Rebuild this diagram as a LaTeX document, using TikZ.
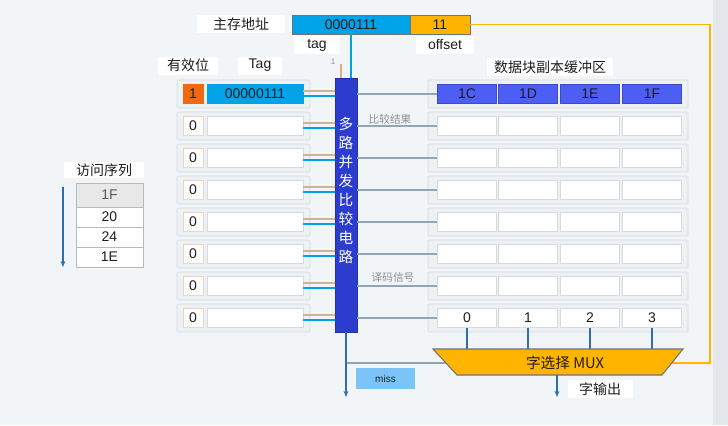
\documentclass[tikz,border=0pt]{standalone}
\usepackage{fontspec}
\setmainfont{Liberation Sans}
\newfontfamily\cjk{Noto Sans CJK SC}
\usetikzlibrary{arrows.meta}

\newcommand{\pxu}{0.75pt}
\definecolor{sfondo}{HTML}{F2F5F8}
\definecolor{banda}{HTML}{E4E8EC}
\definecolor{ciano}{HTML}{00A2E8}
\definecolor{arancio}{HTML}{FFB400}
\definecolor{rosso}{HTML}{F0690F}
\definecolor{blu}{HTML}{2C3CCF}
\definecolor{bluchiaro}{HTML}{4D5EF5}
\definecolor{missblu}{HTML}{7CC3F7}
\definecolor{cornice}{HTML}{D3DBE3}
\definecolor{rigagrigio}{HTML}{EEF1F4}
\definecolor{bordoscuro}{HTML}{6E7378}
\definecolor{bordoarancio}{HTML}{F2D3BC}
\definecolor{filogrigio}{HTML}{8FA6B8}
\definecolor{sabbia}{HTML}{D8B18A}
\definecolor{frecciablu}{HTML}{2F6EA8}
\definecolor{notagrigio}{HTML}{8A8F94}
\definecolor{testo}{HTML}{1E1E1E}

\tikzset{
  etichetta/.style={fill=white,inner sep=0pt,minimum height=18*\pxu,text=testo,font=\fontsize{10.5}{12}\selectfont},
  cinese/.style={etichetta,font=\cjk\fontsize{10.5}{12}\selectfont},
  riga/.style={draw=cornice,fill=rigagrigio,rounded corners=1pt,minimum width=#1*\pxu,minimum height=28*\pxu,inner sep=0pt},
  casella/.style={draw=cornice,fill=white,minimum width=#1*\pxu,minimum height=19*\pxu,inner sep=0pt,text=testo,font=\fontsize{10.5}{12}\selectfont},
  filo/.style={draw=filogrigio,line width=0.8pt},
  freccia/.style={draw=frecciablu,line width=0.9pt,-{Stealth[length=4.5pt,width=3.5pt]}},
  nota/.style={text=notagrigio,inner sep=0pt,font=\cjk\fontsize{8}{9}\selectfont},
}

\begin{document}
\begin{tikzpicture}[x=0.75pt,y=-0.75pt]
    \useasboundingbox (0,0) rectangle (728,425);
    \fill[sfondo] (0,0) rectangle (728,425);
    \fill[banda] (713,0) rectangle (728,425);

    %%%%%%%% Indirizzo %%%%%%%%
    \node[cinese,minimum width=88*\pxu] (lblAddr) at (241,24) {主存地址};
    \node[casella=118,fill=ciano,draw=bordoscuro] (addrTag) at (351,24.5) {0000111};
    \node[casella=60,fill=arancio,draw=bordoscuro] (addrOff) at (440,24.5) {11};
    \node[etichetta,minimum width=46*\pxu] (lblTag) at (317,45) {tag};
    \node[etichetta,minimum width=58*\pxu] (lblOff) at (445,45) {offset};

    %%%%%%%% Intestazioni %%%%%%%%
    \node[cinese,minimum width=60*\pxu] (lblValid) at (188,65.5) {有效位};
    \node[etichetta,minimum width=44*\pxu] (lblTagCol) at (260,65.5) {Tag};
    \node[cinese,minimum width=126*\pxu] (lblBuf) at (550,67) {数据块副本缓冲区};
    \node[inner sep=0pt,text=notagrigio,font=\fontsize{6}{7}\selectfont] (lblOne) at (333,62) {1};
    \coordinate (uno) at (341,64);

    %%%%%%%% Comparatore %%%%%%%%
    \node[fill=blu,draw=blu!80!black,minimum width=22*\pxu,minimum height=254*\pxu,inner sep=0pt] (cmp) at (346,205) {};
    \node[text=white,align=center,inner sep=0pt,font=\cjk\fontsize{11}{14.25}\selectfont] (cmpTxt) at (346,190) {多\\路\\并\\发\\比\\较\\电\\路};
    \node[nota] (lblCmp) at (390,119) {比较结果};
    \node[nota] (lblDec) at (393,277) {译码信号};

    %%%%%%%% Righe cache %%%%%%%%
    \foreach \i in {1,...,8}{
        \pgfmathsetmacro{\yc}{62+32*\i}
        \node[riga=133] (L\i) at (243.5,\yc) {};
        \node[riga=260] (R\i) at (558,\yc) {};
    }
    \node[casella=20,fill=rosso,draw=rosso] (v1) at (193,94) {1};
    \node[casella=96,fill=ciano,draw=ciano] (t1) at (255,94) {00000111};
    \foreach \j/\xc/\d in {1/467/1C,2/528/1D,3/590/1E,4/652/1F}
        \node[casella=59,fill=bluchiaro,draw=bluchiaro!80!black] (c1-\j) at (\xc,94) {\d};
    \foreach \i in {2,...,7}{
        \pgfmathsetmacro{\yc}{62+32*\i}
        \node[casella=20,draw=bordoarancio] (v\i) at (193,\yc) {0};
        \node[casella=96] (t\i) at (255,\yc) {};
        \foreach \j/\xc in {1/467,2/528,3/590,4/652}
            \node[casella=59] (c\i-\j) at (\xc,\yc) {};
    }
    \node[casella=20,draw=bordoarancio] (v8) at (193,318) {0};
    \node[casella=96] (t8) at (255,318) {};
    \foreach \j/\xc/\d in {1/467/0,2/528/1,3/590/2,4/652/3}
        \node[casella=59] (c8-\j) at (\xc,318) {\d};

    %%%%%%%% Collegamenti %%%%%%%%
    \foreach \i in {1,...,8}{
        \draw[sabbia,line width=0.8pt] ([yshift=2.25pt]t\i.east) -- ([yshift=2.25pt]t\i.east -| cmp.west);
        \draw[ciano,line width=1.2pt] ([yshift=-1.5pt]t\i.east) -- ([yshift=-1.5pt]t\i.east -| cmp.west);
        \draw[filo] (c\i-1.west -| cmp.east) -- (c\i-1.west);
    }
    \draw[ciano,line width=1.2pt] (addrTag.south) -- (addrTag.south |- cmp.north);
    \draw[sabbia,line width=0.8pt] (uno) -- (uno |- cmp.north);

    %%%%%%%% MUX %%%%%%%%
    \coordinate (muxC) at (565,363);
    \coordinate (muxTop) at (0,349);
    \coordinate (giro) at (710,363);
    \draw[arancio,line width=1.3pt] (addrOff.east) -| (giro) -- (muxC);
    \draw[filo] (cmp.south |- muxC) -- (muxC);
    \foreach \j in {1,...,4}
        \draw[frecciablu,line width=1pt] (c8-\j.south) -- (c8-\j.south |- muxTop);
    \draw[fill=arancio,draw=bordoscuro,line width=0.8pt] (433,349) -- (683,349) -- (662,375) -- (457,375) -- cycle;
    \node[inner sep=0pt,text=testo,font=\cjk\fontsize{11}{13}\selectfont] (mux) at (muxC) {字选择 MUX};

    %%%%%%%% Uscite %%%%%%%%
    \coordinate (muxOut) at (557,375);
    \coordinate (fineOut) at (557,397);
    \coordinate (fineMiss) at (346,397);
    \draw[freccia] (cmp.south) -- (fineMiss);
    \draw[freccia] (muxOut) -- (fineOut);
    \node[cinese,minimum width=65*\pxu] (lblOut) at (600,389) {字输出};
    \node[fill=missblu,minimum width=59*\pxu,minimum height=21*\pxu,inner sep=0pt,text=testo,font=\fontsize{7.5}{9}\selectfont] (miss) at (385.5,378.5) {miss};

    %%%%%%%% Sequenza %%%%%%%%
    \node[cinese,minimum width=80*\pxu,minimum height=16*\pxu] (lblSeq) at (104,170) {访问序列};
    \node[casella=67,fill=gray!18,draw=gray!55,minimum height=24*\pxu,text=gray!70!black] (s1) at (109.5,195) {1F};
    \node[casella=67,draw=gray!55,minimum height=20*\pxu] (s2) at (109.5,217) {20};
    \node[casella=67,draw=gray!55,minimum height=20*\pxu] (s3) at (109.5,237) {24};
    \node[casella=67,draw=gray!55,minimum height=20*\pxu] (s4) at (109.5,257) {1E};
    \coordinate (seqTop) at (63,187);
    \coordinate (seqBot) at (63,267);
    \draw[freccia] (seqTop) -- (seqBot);
\end{tikzpicture}
\end{document}
